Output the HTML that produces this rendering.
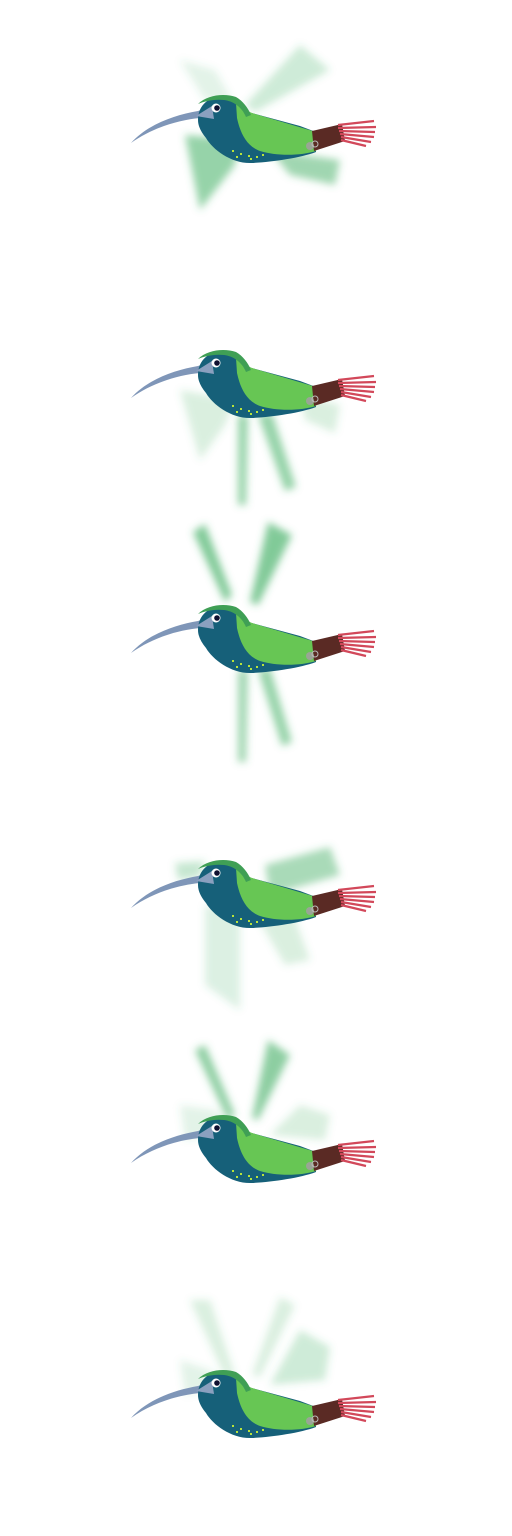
<!DOCTYPE html>
<html><head><meta charset="utf-8"><style>html,body{margin:0;padding:0;background:#fff;width:512px;height:1536px;overflow:hidden}</style></head>
<body>
<svg width="512" height="1536" viewBox="0 0 512 1536" xmlns="http://www.w3.org/2000/svg">
<defs>
<filter id="bl" x="-50%" y="-50%" width="200%" height="200%"><feGaussianBlur stdDeviation="4"/></filter>
<g id="bird">
  <path d="M131,143 C148,124 175,115 198,111 L212,106 L214,119 L200,118 C178,120 152,128 131,143Z" fill="#7f96b8"/>
  <path d="M198,120 C198,104 211,95 226,96 C238,97 245,104 248,112 L300,126 L316,132 L316,152 C300,158 272,162 252,163 C232,164 213,150 206,138 C201,132 198,126 198,120Z" fill="#166079"/>
  <path d="M236,103 C243,107 247,111 252,113 L316,132 L316,151 C300,156 276,156 260,151 C246,146 240,132 237,118Z" fill="#67c654"/>
  <path d="M198,104 C207,95 224,93 236,97 C243,101 248,108 251,115 L246,117 C242,107 233,101 224,100 C214,99 205,101 198,104Z" fill="#3f9f55"/>
  <path d="M196,116 L212,106 L214,119Z" fill="#8aa0bf"/>
  <circle cx="216" cy="108" r="4.5" fill="#fff"/>
  <circle cx="217" cy="108" r="2.8" fill="#101030"/>
  <path d="M312,131 L342,124 L345,141 L314,151Z" fill="#5a2a24"/>
  <path d="M338,125 L374,121 M338,128 L376,127 M339,131 L375,132 M340,134 L374,137 M341,137 L371,142 M341,140 L366,146" stroke="#d2485a" stroke-width="2.2"/>
  <circle cx="310" cy="146" r="4" fill="#9aa596"/>
  <circle cx="315" cy="144" r="3" fill="none" stroke="#bbb" stroke-width="1"/>
  <g fill="#b8e33a"><rect x="232" y="150" width="2" height="2"/><rect x="240" y="153" width="2" height="2"/><rect x="248" y="155" width="2" height="2"/><rect x="256" y="156" width="2" height="2"/><rect x="236" y="156" width="2" height="2"/><rect x="250" y="158" width="2" height="2"/><rect x="262" y="154" width="2" height="2"/></g>
</g>
</defs>
<g>
  <g filter="url(#bl)" fill="#3fae62">
    <polygon points="180,60 215,70 232,100 205,100" opacity="0.15"/>
    <polygon points="300,45 330,70 255,112 245,105" opacity="0.25"/>
    <polygon points="185,135 240,140 235,165 200,210" opacity="0.55"/>
    <polygon points="270,150 340,160 335,185 290,175" opacity="0.5"/>
  </g>
  <use href="#bird"/>
</g>
<g transform="translate(0,255)">
  <g filter="url(#bl)" fill="#3fae62">
    <polygon points="180,135 235,145 225,170 200,205" opacity="0.2"/>
    <polygon points="238,160 248,160 246,250 238,250" opacity="0.55"/>
    <polygon points="258,160 272,158 296,232 285,236" opacity="0.55"/>
    <polygon points="300,140 340,150 335,178 305,165" opacity="0.2"/>
  </g>
  <use href="#bird"/>
</g>
<g transform="translate(0,510)">
  <g filter="url(#bl)" fill="#3fae62">
    <polygon points="193,22 205,14 232,85 225,92" opacity="0.65"/>
    <polygon points="268,12 292,25 258,95 250,92" opacity="0.65"/>
    <polygon points="238,160 248,160 246,252 238,252" opacity="0.5"/>
    <polygon points="258,160 270,158 292,232 282,236" opacity="0.55"/>
  </g>
  <use href="#bird"/>
</g>
<g transform="translate(0,765)">
  <g filter="url(#bl)" fill="#3fae62">
    <polygon points="175,98 205,96 200,112 178,115" opacity="0.3"/>
    <polygon points="265,100 330,82 340,110 270,130" opacity="0.45"/>
    <polygon points="205,140 240,145 240,245 205,220" opacity="0.18"/>
    <polygon points="250,140 290,140 310,195 285,200" opacity="0.2"/>
  </g>
  <use href="#bird"/>
</g>
<g transform="translate(0,1020)">
  <g filter="url(#bl)" fill="#3fae62">
    <polygon points="195,30 205,25 235,95 228,100" opacity="0.6"/>
    <polygon points="268,20 290,35 258,100 252,98" opacity="0.6"/>
    <polygon points="180,85 215,90 235,110 185,120" opacity="0.15"/>
    <polygon points="300,85 330,95 325,120 270,115" opacity="0.2"/>
  </g>
  <use href="#bird"/>
</g>
<g transform="translate(0,1275)">
  <g filter="url(#bl)" fill="#3fae62">
    <polygon points="190,25 210,25 235,100 225,102" opacity="0.2"/>
    <polygon points="280,22 295,30 260,102 252,100" opacity="0.2"/>
    <polygon points="300,55 330,72 325,105 270,110" opacity="0.25"/>
    <polygon points="180,85 210,95 225,110 185,120" opacity="0.15"/>
  </g>
  <use href="#bird"/>
</g>
</svg>
</body></html>
